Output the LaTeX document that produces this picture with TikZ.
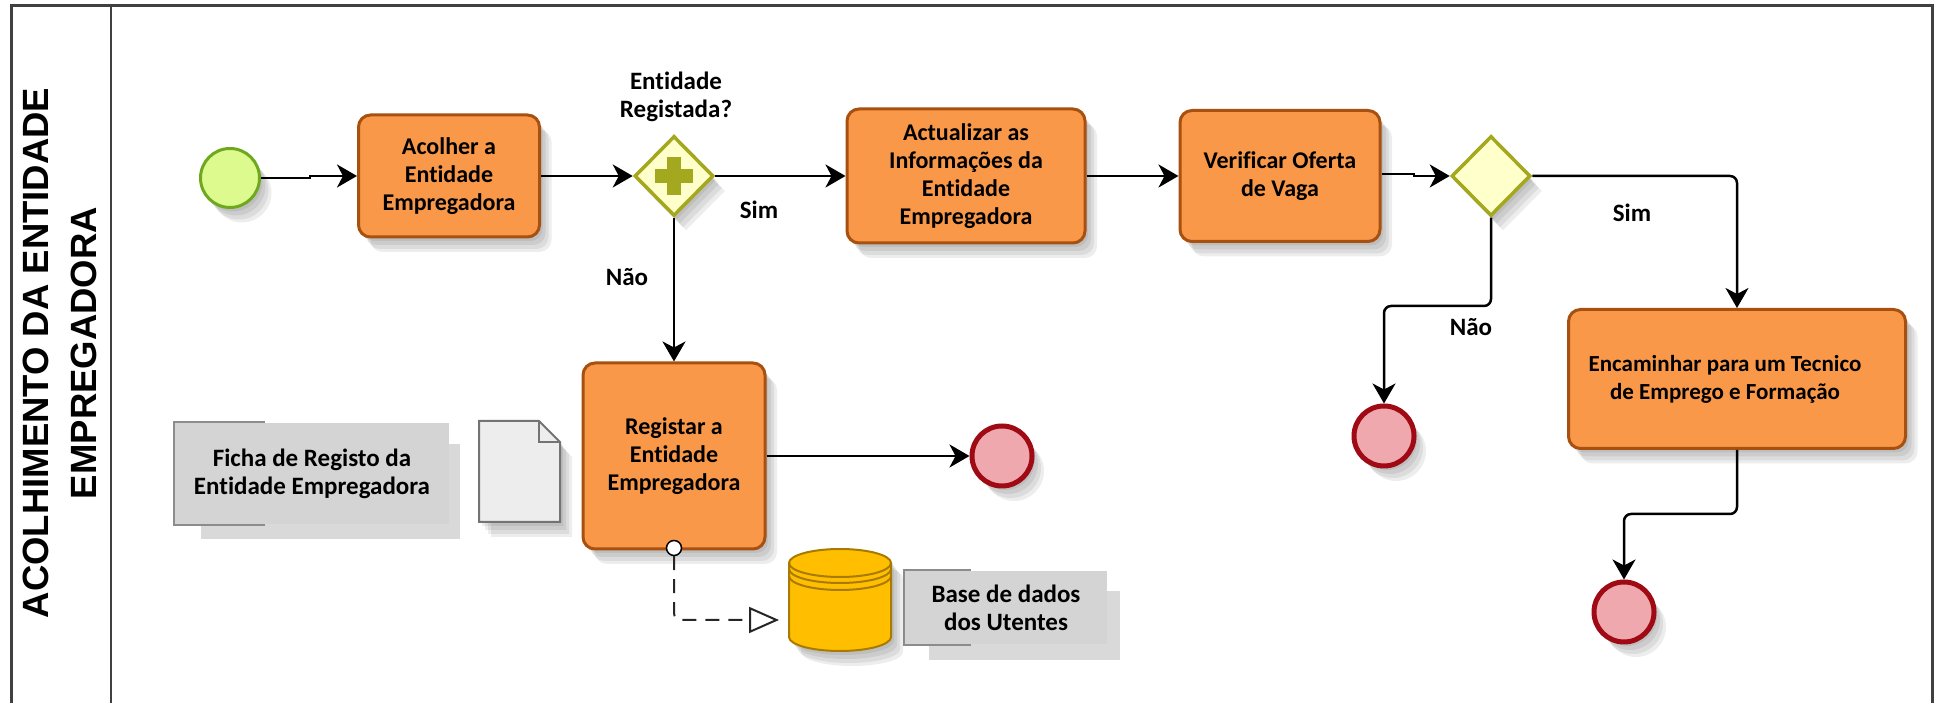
\documentclass[tikz,border=0pt]{standalone}
\usepackage{fontspec}
\setmainfont[BoldFont={Carlito Bold}, Ligatures=NoCommon]{Carlito}
\newfontfamily\poolfont{Liberation Sans}
\usepackage{tikz}
\usetikzlibrary{positioning, arrows.meta, shapes.geometric, shadows}
\definecolor{taskfill}{HTML}{F99848}
\definecolor{taskline}{HTML}{A8500F}
\definecolor{gatefill}{HTML}{FFFFCC}
\definecolor{gateline}{HTML}{A3A81E}
\definecolor{startfill}{HTML}{DDFA8F}
\definecolor{startline}{HTML}{6FA81F}
\definecolor{endfill}{HTML}{EFA9AE}
\definecolor{endline}{HTML}{A00A14}
\definecolor{storefill}{HTML}{FFBF00}
\definecolor{storeline}{HTML}{A87A00}
\tikzset{
->, % all connectors are directed
>={Stealth[length=20pt, width=23pt, inset=6pt]}, % bold arrow heads
softlayer/.style 2 args={drop shadow={shadow xshift=#1pt, shadow yshift=-#2pt, opacity=.07, fill=black}},
softshadow/.style={softlayer={12}{15}, softlayer={9}{12}, softlayer={6}{8}, softlayer={3}{4}}, % blurred look
task/.style={rectangle, rounded corners=12pt, draw=taskline, fill=taskfill, line width=3pt, align=center, softshadow,
  font=\fontsize{24}{28}\selectfont\bfseries},
gate/.style={diamond, shape aspect=1, inner sep=0pt, minimum width=79pt, minimum height=80pt, draw=gateline, fill=gatefill, line width=3.5pt, softshadow},
startevent/.style={circle, minimum size=59pt, inner sep=0pt, draw=startline, fill=startfill, line width=3pt, softshadow},
endevent/.style={circle, minimum size=60pt, inner sep=0pt, draw=endline, fill=endfill, line width=5pt, softshadow},
note/.style={rectangle, fill=black!17, inner sep=0pt, align=center, font=\fontsize{25}{28}\selectfont\bfseries,
  drop shadow={shadow scale=.945, shadow xshift=20pt, shadow yshift=-19pt, opacity=.15, fill=black}},
bracket/.style={-, draw=black!45, line width=2pt},
lbl/.style={font=\fontsize{25}{28}\selectfont\bfseries, align=center},
}

\begin{document}
\begin{tikzpicture}[x=1pt, y=1pt, line width=2.5pt]
    \useasboundingbox (0,0) rectangle (1935,703);

    % pool frame
    \draw[-, black!75, line width=3pt] (11,0) |- (1932,697) -- (1932,0);
    \draw[-, black!75, line width=2.5pt] (111,697) -- (111,0);
    \node[rotate=90, align=center, font=\poolfont\bfseries\fontsize{36.5}{48}\selectfont] (pool) at (60,350) {ACOLHIMENTO DA ENTIDADE\\EMPREGADORA};

    % top row
    \node[startevent] (start) at (230,525) {};
    \node[task, minimum width=181pt, minimum height=122pt] (acolher) at (449,527) {Acolher a\\Entidade\\Empregadora};
    \node[gate, right of=acolher, node distance=225pt] (gw1) {};
    \node[task, right of=gw1, node distance=292pt, minimum width=238pt, minimum height=134pt] (actualizar) {Actualizar as\\Informações da\\Entidade\\Empregadora};
    \node[task, right of=actualizar, node distance=314pt, minimum width=200pt, minimum height=131pt] (verificar) {Verificar Oferta\\de Vaga};
    \node[gate, right of=verificar, node distance=211pt] (gw2) {};
    \draw[-, gateline, line width=14pt] ([yshift=-19pt]gw1.center) -- ([yshift=19pt]gw1.center);
    \draw[-, gateline, line width=14pt] ([xshift=-19pt]gw1.center) -- ([xshift=19pt]gw1.center);

    % lower nodes
    \node[task, below of=gw1, node distance=280pt, minimum width=182pt, minimum height=186pt] (registar) {Registar a\\Entidade\\Empregadora};
    \node[endevent, right of=registar, node distance=328pt] (end1) {};
    \node[endevent] (end2) at (1384,267) {};
    \node[task, minimum width=337pt, minimum height=139pt, font=\fontsize{23}{28}\selectfont\bfseries] (encaminhar) at (1737,324) {Encaminhar para um Tecnico\hspace*{24pt}\\de Emprego e Formação\hspace*{24pt}};
    \node[endevent] (end3) at (1624,91) {};

    % annotations
    \node[note, minimum width=274pt, minimum height=101pt] (ficha) at (312,229.5) {Ficha de Registo da\\Entidade Empregadora};
    \draw[bracket] ([xshift=91pt]ficha.north west) -- (ficha.north west) -- (ficha.south west) -- ([xshift=91pt]ficha.south west);
    \coordinate (doc) at (479,181);
    \filldraw[-, draw=black!55, fill=black!7, line width=2pt, softshadow]
        (doc) -- ++(0,101) -- ++(60,0) -- ++(21,-21) -- ++(0,-80) -- cycle;
    \draw[-, draw=black!55, line width=2pt] (539,282) -- ++(0,-21) -- ++(21,0);
    \node[note, minimum width=202pt, minimum height=73pt] (base) at (1006,95.5) {Base de dados\\dos Utentes};
    \draw[bracket] ([xshift=67pt]base.north west) -- (base.north west) -- (base.south west) -- ([xshift=67pt]base.south west);

    % data store
    \coordinate (store) at (789,140);
    \filldraw[-, draw=storeline, fill=storefill, line width=2pt, softshadow]
        (store) arc (180:0:51pt and 14pt) -- ++(0,-74) arc (360:180:51pt and 14pt) -- cycle;
    \foreach \drop in {0, 6, 13}
        \draw[-, storeline, line width=2pt] ([yshift=-\drop pt]store) arc (180:360:51pt and 14pt);

    % labels
    \node[lbl] (q1) at (676,606) {Entidade\\Registada?};
    \node[lbl] (sim1) at (759,493) {Sim};
    \node[lbl] (nao1) at (627,426) {Não};
    \node[lbl] (sim2) at (1632,490) {Sim};
    \node[lbl] (nao2) at (1471,376) {Não};

    % connectors
    \coordinate (jog1) at (310,527);
    \coordinate (jog2) at (1414,527);
    \coordinate (turn1) at (1384,397);
    \coordinate (turn2) at (1624,189);
    \coordinate (storetip) at (779,83);
    \draw (start.east) -| (jog1) -- (acolher.west);
    \draw (acolher) edge (gw1);
    \draw (gw1) edge (actualizar);
    \draw (actualizar) edge (verificar);
    \draw ([yshift=2pt]verificar.east) -| (jog2) -- (gw2.west);
    \draw (gw1) edge (registar);
    \draw (registar) edge (end1);
    \draw[rounded corners=7pt] (gw2.east) -| (encaminhar.north);
    \draw[rounded corners=7pt] (gw2.south) |- (turn1) -- (end2.north);
    \draw[rounded corners=7pt] (encaminhar.south) |- (turn2) -- (end3.north);

    % association out of the task
    \node[circle, draw=black, fill=white, line width=1.5pt, minimum size=15pt, inner sep=0pt] (assoc) at (674,155) {};
    \draw[black!85, dash pattern=on 14pt off 9pt, line width=2pt, rounded corners=7pt, >={Triangle[open, fill=white, length=30pt, width=26pt]}] (assoc.south) |- (storetip);
\end{tikzpicture}
\end{document}
